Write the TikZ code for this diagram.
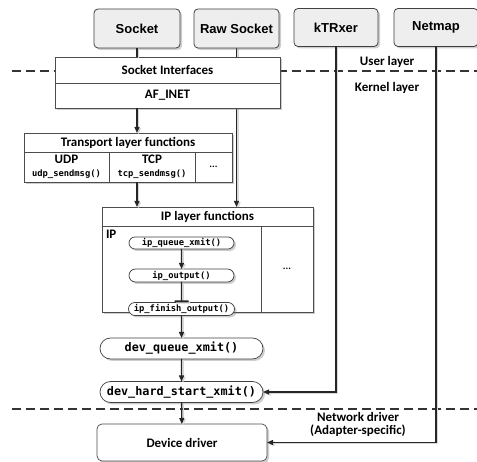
\documentclass[tikz,border=0pt]{standalone}
\usepackage{fontspec}
\setmainfont{Carlito}
\newfontfamily\arialfam{Liberation Sans}
\newfontfamily\codefam{DejaVu Sans Mono}
\usetikzlibrary{arrows.meta,shadows,shapes.misc,calc}
\pgfdeclarelayer{background}
\pgfsetlayers{background,main}

\newcommand\appfont{\arialfam\bfseries\fontsize{13}{15}\selectfont}
\newcommand\labfont{\bfseries\fontsize{13}{13}\selectfont}
\newcommand\smallcode{\codefam\bfseries\fontsize{8.8}{10}\selectfont}
\newcommand\bigcode{\codefam\bfseries\fontsize{11.8}{13}\selectfont}

\tikzset{
  softshadow/.style={drop shadow={shadow xshift=2pt,shadow yshift=-2pt,opacity=0.35,fill=black!55}},
  appbox/.style={draw=black!75, line width=0.8pt, rounded corners=4pt, fill=gray!13,
    minimum width=84pt, minimum height=38pt, font=\appfont, softshadow},
  cellbox/.style={draw=black!70, line width=0.7pt, fill=white, font=\labfont, softshadow},
  pill/.style={rounded rectangle, draw=black!75, line width=0.7pt, fill=white, softshadow},
  conn/.style={line width=1.3pt, draw=black!85,
    preaction={draw=black!15, line width=1.3pt, transform canvas={xshift=1.6pt,yshift=-1.2pt}}},
  arr/.style={conn, -{Triangle[length=6pt,width=5pt]}},
  layerline/.style={dash pattern=on 9pt off 5pt, line width=1.1pt, draw=black!80},
}

\begin{document}
\begin{tikzpicture}[x=1pt,y=-1pt, every node/.style={inner sep=0pt, outer sep=0pt}]
\useasboundingbox (0,0) rectangle (477,462);

% applications in user space
\node[appbox, minimum width=86pt, minimum height=39pt] (sock) at (137,28.5) {Socket};
\node[appbox, minimum width=85pt, minimum height=39pt] (raw) at (236.5,28.5) {Raw Socket};
\node[appbox] (ktr) at (336,27.5) {kTRxer};
\node[appbox] (nmap) at (436,27.5) {Netmap};

% socket interface block
\node[cellbox, minimum width=225pt, minimum height=26pt] (sif) at (167.5,70) {Socket Interfaces};
\node[cellbox, minimum width=225pt, minimum height=25pt] (inet) at (167.5,95.5) {AF\_INET};

% transport layer block
\node[cellbox, minimum width=208pt, minimum height=19pt] (tpt) at (128,142.5) {Transport layer functions};
\node[cellbox, minimum width=85pt, minimum height=30pt, align=center] (udp) at (66.5,167)
  {UDP\\{\smallcode udp\_sendmsg()}};
\node[cellbox, minimum width=86pt, minimum height=30pt, align=center] (tcp) at (152,167)
  {TCP\\{\smallcode tcp\_sendmsg()}};
\node[cellbox, minimum width=37pt, minimum height=30pt, font=\bfseries\fontsize{10}{10}\selectfont] (tdots) at (213.5,167) {...};

% IP layer block
\node[cellbox, minimum width=211pt, minimum height=19pt] (ipt) at (207.5,216.5) {IP layer functions};
\node[cellbox, minimum width=159pt, minimum height=86pt] (ipbody) at (181.5,269) {};
\node[cellbox, minimum width=52pt, minimum height=86pt, font=\bfseries\fontsize{10}{10}\selectfont] (ipdots) at (287,269) {...};
\node[font=\labfont, anchor=north west] (iplab) at ($(ipbody.north west)+(4,4)$) {IP};

% call chain
\node[pill, minimum width=105pt, minimum height=12pt, font=\smallcode] (qx) at (181.5,243) {ip\_queue\_xmit()};
\node[pill, minimum width=105pt, minimum height=13pt, font=\smallcode] (out) at (181.5,275.5) {ip\_output()};
\node[pill, minimum width=106pt, minimum height=13pt, font=\smallcode] (fin) at (181.5,309) {ip\_finish\_output()};
\node[pill, minimum width=163pt, minimum height=21pt, font=\bigcode] (dq) at (181.5,348.5) {dev\_queue\_xmit()};
\node[pill, minimum width=163pt, minimum height=21pt, font=\bigcode] (dh) at (181.5,392) {dev\_hard\_start\_xmit()};
\node[cellbox, rounded corners=5pt, minimum width=170pt, minimum height=37pt] (drv) at (182,442.5) {Device driver};

% layer labels
\node[font=\labfont] (ul) at (387,62) {User layer};
\node[font=\labfont] (kl) at (387,88) {Kernel layer};
\node[font=\labfont, align=center] (nd) at (358,424) {Network driver\\(Adapter-specific)};

% layer boundaries and the raw socket path run behind the blocks
\begin{pgfonlayer}{background}
  \coordinate (ltop) at (12,71);
  \coordinate (rtop) at (477,71);
  \coordinate (lbot) at (12,409);
  \coordinate (rbot) at (477,409);
  \draw[layerline] (ltop) -- (rtop);
  \draw[layerline] (lbot) -- (rbot);
  \draw[arr] (raw.south) -- (ipt.north -| raw.south);
\end{pgfonlayer}

% connectors
\draw[conn] (sock.south) -- (sif.north -| sock.south);
\draw[arr] (inet.south -| sock.south) -- (tpt.north -| sock.south);
\draw[arr] (tcp.south -| sock.south) -- (ipt.north -| sock.south);
\draw[arr] (qx) -- (out);
\draw[conn, -{Bar[width=14pt,line width=2.2pt]}] (out) -- (fin);
\draw[arr] (fin) -- (dq);
\draw[arr] (dq) -- (dh);
\draw[arr] (dh) -- (drv);
\draw[arr] (ktr.south) |- (dh.east);
\draw[arr] (nmap.south) |- (drv.east);
\end{tikzpicture}
\end{document}
